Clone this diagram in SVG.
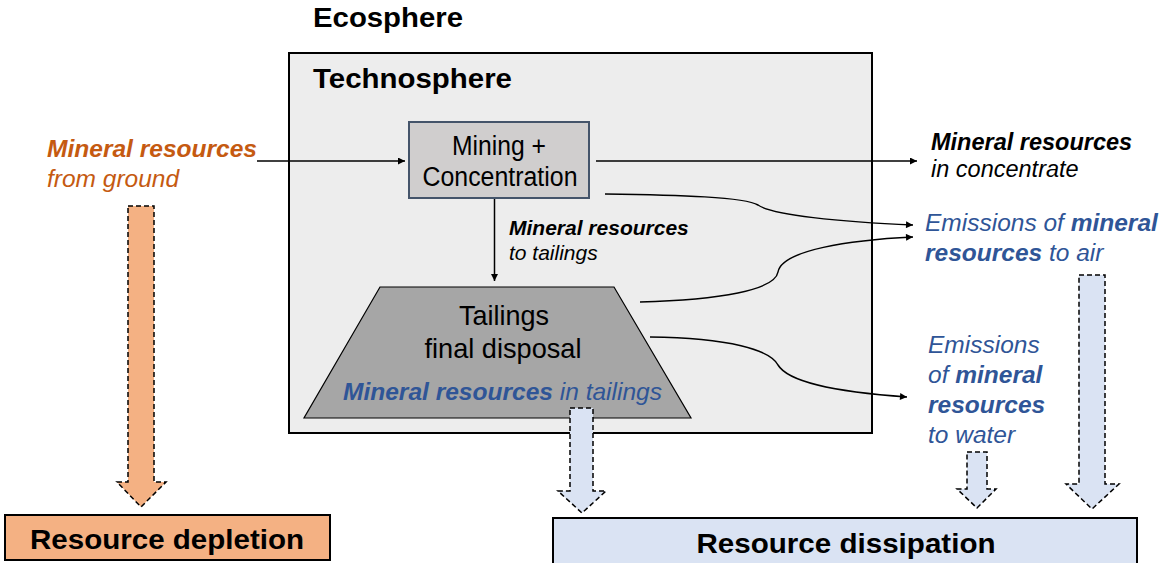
<svg xmlns="http://www.w3.org/2000/svg" width="1163" height="563" viewBox="0 0 1163 563">
<style>
text{font-family:"Liberation Sans",Arial,sans-serif}
.b{font-weight:bold}
.i{font-style:italic}
.bi{font-weight:bold;font-style:italic}
.or{fill:#c55a11}
.bl{fill:#2f5597}
.k{fill:#000}
.conn{fill:none;stroke:#000;stroke-width:1.5}
.blk{stroke:#000;stroke-width:1.5;stroke-dasharray:5,3}
</style>
<defs>
<marker id="ah" viewBox="0 0 10 10" refX="10" refY="5" markerWidth="8" markerHeight="7" markerUnits="userSpaceOnUse" orient="auto">
<path d="M0,0 L10,5 L0,10 z" fill="#000"/>
</marker>
</defs>
<rect width="1163" height="563" fill="#fff"/>
<g id="ecosphere">
<text x="313" y="27" class="b" font-size="27" textLength="150" lengthAdjust="spacingAndGlyphs">Ecosphere</text>
</g>
<g id="technosphere">
<rect x="289" y="53" width="583" height="380" fill="#ededed" stroke="#000" stroke-width="2"/>
<text x="313" y="88" class="b" font-size="28" textLength="199" lengthAdjust="spacingAndGlyphs">Technosphere</text>
</g>
<g id="mining">
<rect x="409" y="122" width="180" height="76" fill="#d0cece" stroke="#44546a" stroke-width="2"/>
<text x="499" y="155" font-size="27" text-anchor="middle" textLength="94" lengthAdjust="spacingAndGlyphs">Mining +</text>
<text x="500" y="186" font-size="27" text-anchor="middle" textLength="155" lengthAdjust="spacingAndGlyphs">Concentration</text>
</g>
<g id="tailings">
<polygon points="380,287 614,287 691,418 304,418" fill="#a6a6a6" stroke="#000" stroke-width="1.2"/>
<text x="504" y="325" font-size="28" text-anchor="middle" textLength="90" lengthAdjust="spacingAndGlyphs">Tailings</text>
<text x="503" y="358" font-size="28" text-anchor="middle" textLength="157" lengthAdjust="spacingAndGlyphs">final disposal</text>
<text x="343" y="400" font-size="24" class="bl" textLength="319" lengthAdjust="spacingAndGlyphs"><tspan class="bi">Mineral resources</tspan><tspan class="i"> in tailings</tspan></text>
</g>
<g id="from-ground">
<text x="47" y="157" font-size="24.5" class="bi or" textLength="210" lengthAdjust="spacingAndGlyphs">Mineral resources</text>
<text x="47" y="187" font-size="24.5" class="i or">from ground</text>
</g>
<g id="concentrate">
<text x="931" y="150" font-size="23.5" class="bi k">Mineral resources</text>
<text x="931" y="177" font-size="23.5" class="i k">in concentrate</text>
</g>
<g id="to-tailings-label">
<text x="509" y="235" font-size="21" class="bi k">Mineral resources</text>
<text x="509" y="260" font-size="21" class="i k">to tailings</text>
</g>
<g id="emissions-air">
<text x="925" y="231" font-size="24.5" class="bl"><tspan class="i">Emissions of </tspan><tspan class="bi">mineral</tspan></text>
<text x="925" y="261" font-size="24.5" class="bl"><tspan class="bi">resources</tspan><tspan class="i"> to air</tspan></text>
</g>
<g id="emissions-water">
<text x="928" y="353" font-size="24.5" class="bl i">Emissions</text>
<text x="928" y="383" font-size="24.5" class="bl"><tspan class="i">of </tspan><tspan class="bi">mineral</tspan></text>
<text x="928" y="413" font-size="24.5" class="bl bi">resources</text>
<text x="928" y="443" font-size="24.5" class="bl i">to water</text>
</g>
<g id="connectors">
<line x1="257" y1="161" x2="405" y2="161" class="conn" marker-end="url(#ah)"/>
<line x1="596" y1="161" x2="917" y2="161" class="conn" marker-end="url(#ah)"/>
<line x1="494.5" y1="199" x2="494.5" y2="281" class="conn" marker-end="url(#ah)"/>
<path d="M605,194 C680,195 745,197 758,205 C772,215 840,222 913,225" class="conn" marker-end="url(#ah)"/>
<path d="M640,302 C720,300 775,290 778,272 C782,250 850,240 913,237" class="conn" marker-end="url(#ah)"/>
<path d="M650,337 C730,338 770,350 778,365 C790,385 850,393 907,397" class="conn" marker-end="url(#ah)"/>
</g>
<g id="depletion-arrow">
<polygon points="128,206 154,206 154,482 166,482 141,507 117,482 128,482" fill="#f4b183" class="blk"/>
</g>
<g id="tailings-arrow">
<polygon points="570,408 593,408 593,491 606,491 582,513 558,491 570,491" fill="#dae3f3" class="blk"/>
</g>
<g id="water-arrow">
<polygon points="967,452 987,452 987,489 996,489 977,508 957,489 967,489" fill="#dae3f3" class="blk"/>
</g>
<g id="air-arrow">
<polygon points="1079,275 1105,275 1105,484 1119,484 1092,509 1066,484 1079,484" fill="#dae3f3" class="blk"/>
</g>
<g id="resource-depletion">
<rect x="5" y="515" width="325" height="45" fill="#f4b183" stroke="#000" stroke-width="2"/>
<text x="167" y="549" font-size="28" class="b" text-anchor="middle" textLength="274" lengthAdjust="spacingAndGlyphs">Resource depletion</text>
</g>
<g id="resource-dissipation">
<rect x="553" y="518" width="584" height="55" fill="#dae3f3" stroke="#000" stroke-width="2"/>
<text x="846" y="553" font-size="28" class="b" text-anchor="middle" textLength="299" lengthAdjust="spacingAndGlyphs">Resource dissipation</text>
</g>
</svg>
